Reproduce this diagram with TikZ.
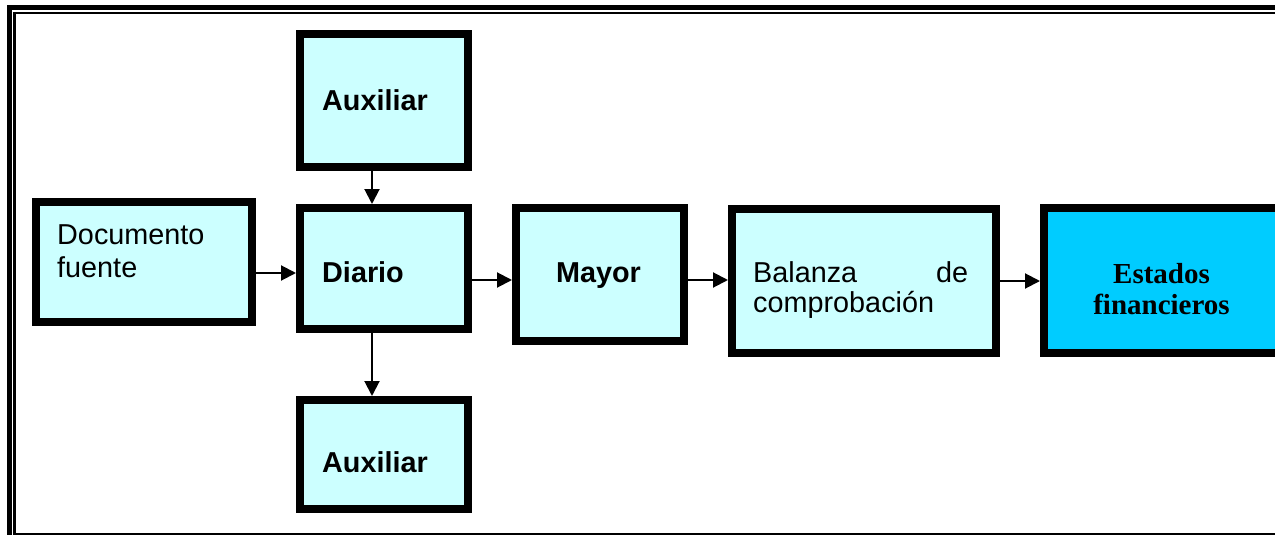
\documentclass[tikz,border=0pt]{standalone}
\usepackage{fontspec}
\setmainfont{Liberation Sans}
\newfontfamily\timesfont{Liberation Serif}
\usepackage{xcolor}
\usepackage{tikz}
\usetikzlibrary{positioning}
\usetikzlibrary{arrows.meta,calc}
\definecolor{lightcyan}{HTML}{CCFFFF}
\definecolor{skyblue}{HTML}{00CCFF}
\tikzstyle{box}=[rectangle,draw=black,line width=8pt,fill=lightcyan,inner sep=0pt]
\tikzstyle{darkbox}=[box,fill=skyblue]
\tikzstyle{link}=[draw,line width=2pt,-{Triangle[length=15pt,width=15pt]}]
\tikzstyle{boxtext}=[inner sep=0pt,font=\fontsize{28.8}{33}\selectfont]
\tikzstyle{boldtext}=[inner sep=0pt,font=\fontsize{28.8}{33}\selectfont\bfseries]

\begin{document}
\begin{tikzpicture}[x=1pt,y=-1pt]
\useasboundingbox (0,0) rectangle (1275,535);

% page frame
\draw[line width=4.3pt] (9.5,536) -- (9.5,7.5) -- (1280,7.5);
\draw[line width=2.3pt] (14.5,536) -- (14.5,12.8) -- (1280,12.8);
\draw[line width=1.5pt] (14.5,533.8) -- (1280,533.8);

% boxes
\foreach \pos/\name/\w/\h in {{(144,262)/doc/216/120}, {(384,100.5)/auxT/168/133}, {(384,268.5)/diario/168/121}, {(384,454.5)/auxB/168/109}, {(600,274.5)/mayor/168/133}, {(864,281)/balanza/264/144}}
    \node[box,minimum width=\w pt,minimum height=\h pt] (\name) at \pos {};
\node[darkbox,minimum width=238pt,minimum height=145pt] (estados) at (1163,280.5) {};

% texts (multi-line: base = last line)
\node[boxtext,anchor=base west,align=left] (doctext) at (57,277) {Documento\\fuente};
\node[boldtext,anchor=west] (auxTtext) at (322,100) {Auxiliar};
\node[boldtext,anchor=west] (diariotext) at (322,272) {Diario};
\node[boldtext,anchor=west] (auxBtext) at (322,462) {Auxiliar};
\node[boldtext,anchor=base] (mayortext) at (598.5,282) {Mayor};
\node[boxtext,font=\fontsize{28.8}{30}\selectfont,anchor=base west,text width=215pt,align=left] (baltext) at (753,282) {Balanza\hfill de\\comprobación};
\node[inner sep=0pt,font=\timesfont\bfseries\fontsize{29}{31}\selectfont,align=center,anchor=base] (esttext) at (1161.5,314) {Estados\\financieros};

% connectors
\draw[link] (doc.east |- 0,273) -- (diario.west |- 0,273);
\draw[link] (diario.east |- 0,280) -- (mayor.west |- 0,280);
\draw[link] (mayor.east |- 0,280) -- (balanza.west |- 0,280);
\draw[link] (balanza.east |- 0,281) -- (estados.west |- 0,281);
\draw[link] (auxT.south -| 372,0) -- (diario.north -| 372,0);
\draw[link] (diario.south -| 372,0) -- (auxB.north -| 372,0);

\end{tikzpicture}
\end{document}
